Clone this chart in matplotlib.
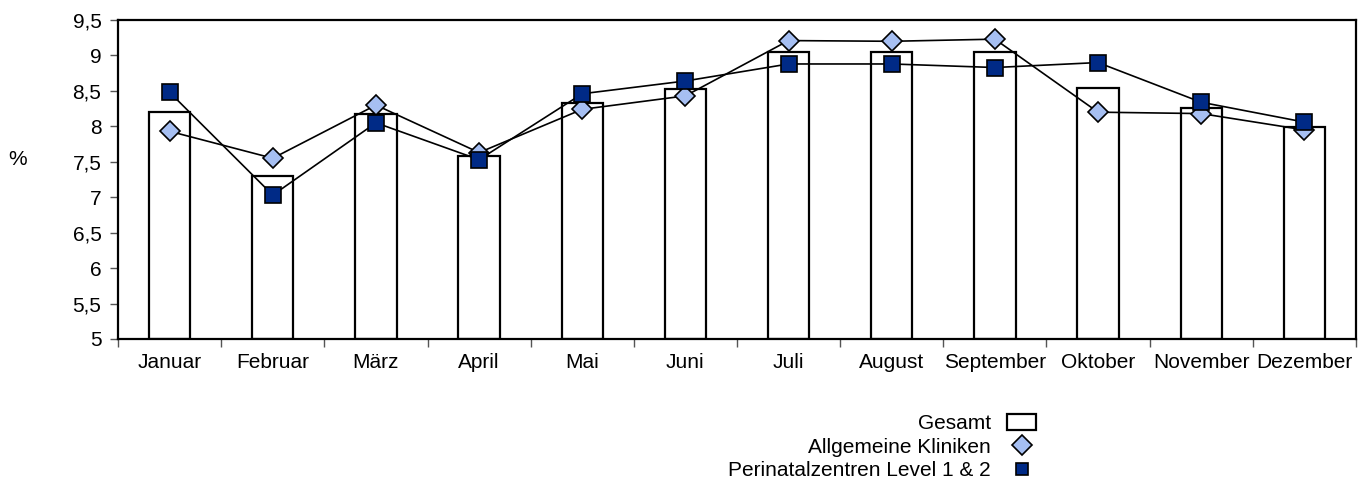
import numpy as np
import matplotlib.pyplot as plt
from matplotlib.ticker import FuncFormatter, FixedLocator
from matplotlib.lines import Line2D
from matplotlib.patches import Patch

plt.rcParams['font.family'] = ['Liberation Sans', 'DejaVu Sans']

# Monate und Werte in %
monate = ['Januar', 'Februar', 'März', 'April', 'Mai', 'Juni', 'Juli',
          'August', 'September', 'Oktober', 'November', 'Dezember']
gesamt = [8.20, 7.30, 8.17, 7.58, 8.33, 8.53, 9.05, 9.05, 9.05, 8.54, 8.26, 7.99]
allgemein = [7.93, 7.55, 8.30, 7.63, 8.24, 8.43, 9.21, 9.20, 9.23, 8.20, 8.18, 7.95]
perinatal = [8.48, 7.03, 8.05, 7.53, 8.46, 8.64, 8.88, 8.88, 8.83, 8.90, 8.34, 8.06]

hell = '#a6bff2'
dunkel = '#002a86'

fig = plt.figure(figsize=(13.71, 4.92), dpi=100)
ax = fig.add_axes([0.0861, 0.311, 0.9029, 0.6483])

x = np.arange(len(monate))
ax.bar(x, [g - 5 for g in gesamt], bottom=5, width=0.4, color='white',
       edgecolor='black', linewidth=1.6, zorder=2)
ax.plot(x, allgemein, color='black', lw=1.2, marker='D', ms=10.5,
        mfc=hell, mec='black', mew=1.2, zorder=3)
ax.plot(x, perinatal, color='black', lw=1.2, marker='s', ms=11.5,
        mfc=dunkel, mec='black', mew=1.2, zorder=4)

ax.set_xlim(-0.5, len(monate) - 0.5)
ax.set_ylim(5, 9.5)
ax.set_yticks(np.arange(5, 9.51, 0.5))
ax.yaxis.set_major_formatter(FuncFormatter(lambda v, p: ('%g' % v).replace('.', ',')))
ax.xaxis.set_major_locator(FixedLocator(np.arange(-0.5, len(monate), 1)))
ax.xaxis.set_minor_locator(FixedLocator(x))
ax.set_xticklabels([])
ax.set_xticklabels(monate, minor=True)
ax.tick_params(axis='x', which='minor', length=0, pad=10, labelsize=15)
ax.tick_params(axis='x', which='major', length=6, width=1, color='#555555')
ax.tick_params(axis='y', length=6, width=1, color='#555555', labelsize=15, pad=6)
for s in ax.spines.values():
    s.set_linewidth(1.6)

fig.text(0.0125, 0.675, '%', fontsize=15, ha='center', va='center')

# Legende: nur Symbole, keine Linien
handles = [
    Patch(facecolor='white', edgecolor='black', linewidth=1.6),
    Line2D([], [], ls='none', marker='D', ms=10, mfc=hell, mec='black', mew=1.2),
    Line2D([], [], ls='none', marker='s', ms=9, mfc=dunkel, mec='black', mew=1.2),
]
labels = ['Gesamt', 'Allgemeine Kliniken', 'Perinatalzentren Level 1 & 2']
fig.legend(handles, labels, loc='lower right', bbox_to_anchor=(0.756, 0.024),
           frameon=False, markerfirst=False, fontsize=15, labelspacing=0.2,
           handlelength=1.4, handleheight=0.8, handletextpad=0.8, borderaxespad=0,
           borderpad=0)

fig.savefig('out.png', dpi=100)
